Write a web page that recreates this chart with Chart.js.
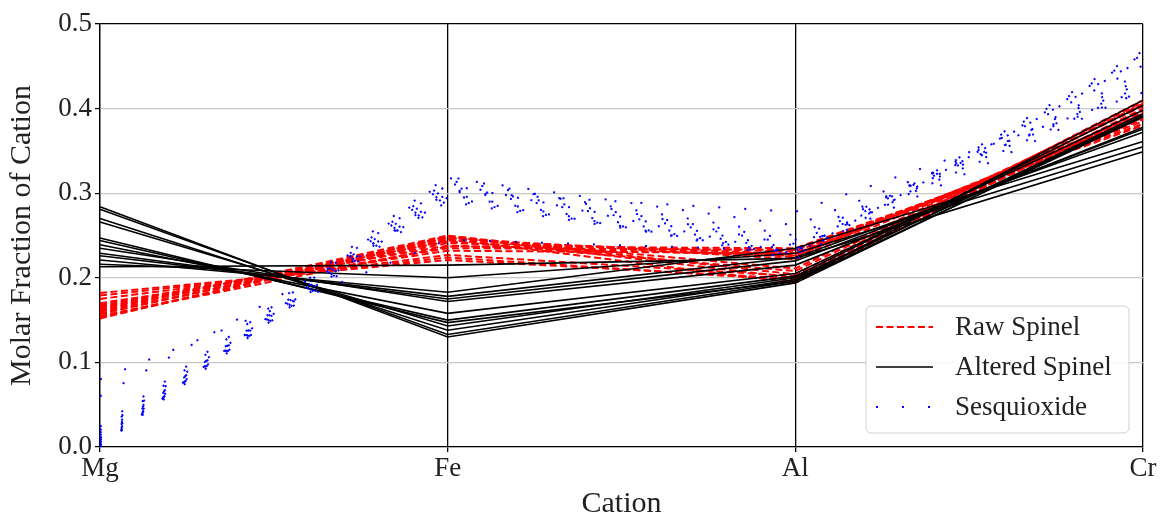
<!DOCTYPE html>
<html>
<head>
<meta charset="utf-8">
<title>Molar Fraction of Cation</title>
<script src="https://cdn.jsdelivr.net/npm/chart.js@4.4.1/dist/chart.umd.min.js"></script>
<style>
  html, body { margin: 0; padding: 0; background: #ffffff; }
  #wrap { width: 1160px; height: 516px; }
</style>
</head>
<body>
<div id="wrap"><canvas id="chart" width="1160" height="516"></canvas></div>
<script>
// Cation axes of the parallel-coordinates plot
const cations = ['Mg', 'Fe', 'Al', 'Cr'];
const yTickLabels = ['0.0', '0.1', '0.2', '0.3', '0.4', '0.5'];

// Each row: molar fractions of [Mg, Fe, Al, Cr] for one analysis
const rawSpinel = [
  [0.182, 0.221, 0.199, 0.398],
  [0.179, 0.224, 0.197, 0.400],
  [0.175, 0.227, 0.202, 0.396],
  [0.170, 0.232, 0.229, 0.385],
  [0.168, 0.238, 0.226, 0.390],
  [0.166, 0.243, 0.208, 0.403],
  [0.165, 0.235, 0.233, 0.382],
  [0.163, 0.247, 0.222, 0.392],
  [0.161, 0.250, 0.204, 0.408],
  [0.160, 0.241, 0.231, 0.387],
  [0.158, 0.245, 0.225, 0.394],
  [0.157, 0.248, 0.211, 0.405],
  [0.155, 0.237, 0.235, 0.380],
  [0.154, 0.244, 0.228, 0.389],
  [0.152, 0.249, 0.200, 0.410],
  [0.153, 0.246, 0.194, 0.406]
];

const alteredSpinel = [
  [0.284, 0.130, 0.194, 0.392],
  [0.281, 0.133, 0.196, 0.390],
  [0.270, 0.138, 0.198, 0.394],
  [0.266, 0.143, 0.200, 0.391],
  [0.247, 0.147, 0.196, 0.410],
  [0.244, 0.150, 0.202, 0.404],
  [0.239, 0.158, 0.205, 0.398],
  [0.235, 0.172, 0.215, 0.378],
  [0.229, 0.175, 0.220, 0.376],
  [0.226, 0.178, 0.224, 0.372],
  [0.221, 0.183, 0.235, 0.361],
  [0.216, 0.200, 0.229, 0.355],
  [0.213, 0.215, 0.223, 0.349]
];

const sesquioxide = [
  [0.000, 0.318, 0.262, 0.420],
  [0.002, 0.312, 0.228, 0.458],
  [0.004, 0.305, 0.240, 0.451],
  [0.006, 0.298, 0.232, 0.464],
  [0.008, 0.315, 0.250, 0.427],
  [0.011, 0.308, 0.245, 0.436],
  [0.014, 0.300, 0.222, 0.464],
  [0.017, 0.320, 0.238, 0.425],
  [0.020, 0.295, 0.226, 0.459],
  [0.024, 0.310, 0.234, 0.432],
  [0.001, 0.302, 0.278, 0.419],
  [0.010, 0.292, 0.230, 0.468],
  [0.060, 0.290, 0.228, 0.422],
  [0.080, 0.245, 0.232, 0.443]
];

// Line styles per group (legend order); higher "order" is painted underneath
const groups = [
  { name: 'Raw Spinel',     rows: rawSpinel,     color: '#ff0000', width: 2.0, dash: [7, 3.5], order: 2 },
  { name: 'Altered Spinel', rows: alteredSpinel, color: '#000000', width: 1.6, dash: [],       order: 1 },
  { name: 'Sesquioxide',    rows: sesquioxide,   color: '#0000ff', width: 2.0, dash: [2, 24],  order: 0 }
];

const SERIF = '"Liberation Serif", "Times New Roman", "DejaVu Serif", serif';
const TEXT = '#222222';

const datasets = [];
groups.forEach(g => {
  g.rows.forEach(row => {
    datasets.push({
      label: g.name,
      data: row,
      borderColor: g.color,
      borderWidth: g.width,
      borderDash: g.dash,
      borderCapStyle: 'butt',
      pointRadius: 0,
      pointHoverRadius: 0,
      tension: 0,
      fill: false,
      order: g.order
    });
  });
});

// Legend box drawn inside the plot area, lower right
const boxLegend = {
  id: 'boxLegend',
  afterDraw(chart) {
    const ctx = chart.ctx;
    const x = 866, y = 306, w = 263, h = 127, r = 5;
    ctx.save();
    ctx.beginPath();
    ctx.moveTo(x + r, y);
    ctx.arcTo(x + w, y, x + w, y + h, r);
    ctx.arcTo(x + w, y + h, x, y + h, r);
    ctx.arcTo(x, y + h, x, y, r);
    ctx.arcTo(x, y, x + w, y, r);
    ctx.closePath();
    ctx.fillStyle = 'rgba(255,255,255,0.85)';
    ctx.fill();
    ctx.lineWidth = 1;
    ctx.strokeStyle = '#d0d0d0';
    ctx.stroke();

    groups.forEach((g, i) => {
      const cy = y + 21 + i * 40;
      ctx.beginPath();
      ctx.setLineDash(g.dash);
      ctx.lineDashOffset = 0;
      ctx.lineCap = 'butt';
      ctx.lineWidth = g.width;
      ctx.strokeStyle = g.color;
      ctx.moveTo(x + 10, cy);
      ctx.lineTo(x + 67, cy);
      ctx.stroke();
      ctx.setLineDash([]);
      ctx.fillStyle = TEXT;
      ctx.font = '27px ' + SERIF;
      ctx.textAlign = 'left';
      ctx.textBaseline = 'middle';
      ctx.fillText(g.name, x + 89, cy + 1);
    });
    ctx.restore();
  }
};

new Chart(document.getElementById('chart'), {
  type: 'line',
  data: { labels: cations, datasets: datasets },
  options: {
    responsive: false,
    animation: false,
    devicePixelRatio: 1,
    layout: { padding: { top: 24, right: 17, bottom: 0, left: 0 } },
    plugins: {
      legend: { display: false },
      tooltip: { enabled: false },
      title: { display: false }
    },
    scales: {
      x: {
        type: 'category',
        offset: false,
        grid: {
          color: '#000000',
          lineWidth: 1.3,
          drawTicks: true,
          tickLength: 5,
          tickColor: '#000000'
        },
        border: { color: '#000000', width: 1.3 },
        ticks: {
          color: TEXT,
          font: { family: SERIF, size: 27 },
          padding: 1,
          maxRotation: 0,
          autoSkip: false
        },
        title: {
          display: true,
          text: 'Cation',
          color: TEXT,
          font: { family: SERIF, size: 30, lineHeight: 0.8 },
          padding: { top: 0, bottom: 0 }
        },
        afterFit(scale) { scale.height = 69; }
      },
      y: {
        min: 0,
        max: 0.5,
        grid: {
          color: ctx => (ctx.tick && ctx.tick.value >= 0.4999) ? '#000000' : '#c8c8c8',
          lineWidth: ctx => (ctx.tick && ctx.tick.value >= 0.4999) ? 1.3 : 1.2,
          drawTicks: true,
          tickLength: 5,
          tickColor: '#000000'
        },
        border: { color: '#000000', width: 1.3 },
        ticks: {
          stepSize: 0.1,
          color: TEXT,
          font: { family: SERIF, size: 27 },
          padding: 3,
          callback: (v, i) => yTickLabels[i]
        },
        title: {
          display: true,
          text: 'Molar Fraction of Cation',
          color: TEXT,
          font: { family: SERIF, size: 30 },
          padding: { top: 4, bottom: 0 }
        },
        afterFit(scale) { scale.width = 100; }
      }
    }
  },
  plugins: [boxLegend]
});
</script>
</body>
</html>
